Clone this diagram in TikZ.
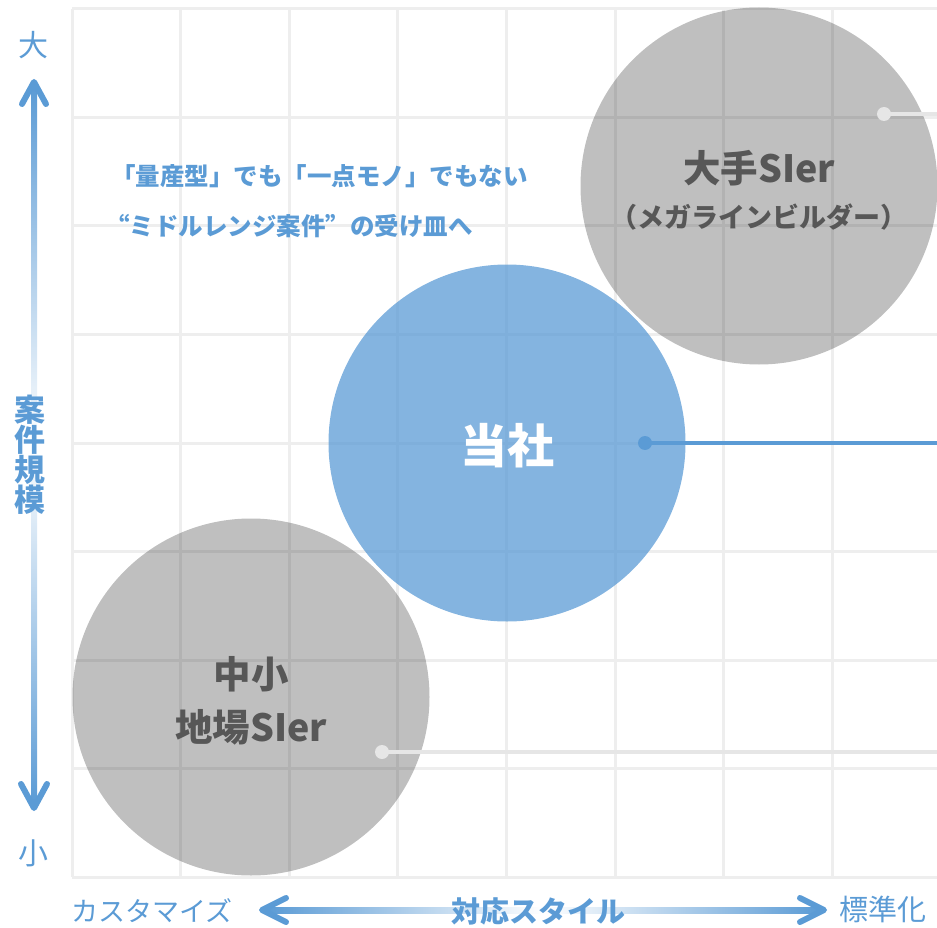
\documentclass[tikz,border=0pt]{standalone}
\usepackage{fontspec}
\setmainfont{Noto Sans CJK JP}
\definecolor{axisblue}{HTML}{5B9BD5}
\definecolor{gridgray}{HTML}{EEEEEE}
\definecolor{linegray}{HTML}{E6E6E6}
\definecolor{labelgray}{HTML}{575757}
\newcommand{\fwq}[1]{{\addfontfeature{CharacterWidth=Full}#1}}
\tikzset{
  gridline/.style={draw=gridgray, line width=3pt},
  bubble/.style={circle, minimum size=357pt, inner sep=0pt},
  graybubble/.style={bubble, fill=black, fill opacity=0.25},
  bluebubble/.style={bubble, fill=axisblue, fill opacity=0.75},
  graydot/.style={circle, fill=linegray, minimum size=14pt, inner sep=0pt},
  bluedot/.style={circle, fill=axisblue, minimum size=14pt, inner sep=0pt},
  grayconn/.style={draw=linegray, line width=4pt},
  blueconn/.style={draw=axisblue, line width=4pt},
  chevron/.style={draw=axisblue, line width=6pt, line cap=round, line join=round},
  axislabel/.style={text=axisblue, inner sep=0pt},
  bubbletext/.style={text=labelgray, inner sep=0pt, font=\bfseries},
  note/.style={text=axisblue, inner sep=0pt, anchor=west, font=\bfseries\fontsize{24.5}{28}\selectfont}
}
\begin{document}
\begin{tikzpicture}[x=1pt,y=-1pt]
\useasboundingbox (0,0) rectangle (937,928);
% grid
\begin{scope}
\clip (0,0) rectangle (937,928);
\foreach \i in {0,...,8} \draw[gridline] ({72+\i*108.6},9) -- ({72+\i*108.6},877);
\foreach \j in {0,...,8} \draw[gridline] (72,{9+\j*108.5}) -- (960,{9+\j*108.5});
\end{scope}
% bubbles
\node[graybubble] (big) at (759,186) {};
\node[bluebubble] (us) at (507,443) {};
\node[graybubble] (small) at (251,697) {};
% connectors
\begin{scope}
\clip (0,0) rectangle (937,928);
\node[graydot] (d1) at (884,114) {};
\coordinate (e1) at (945,114);
\draw[grayconn] (d1.center) -- (e1);
\node[bluedot] (d2) at (645,443) {};
\coordinate (e2) at (945,443);
\draw[blueconn] (d2.center) -- (e2);
\node[graydot] (d3) at (382,752) {};
\coordinate (e3) at (945,752);
\draw[grayconn] (d3.center) -- (e3);
\end{scope}
% bubble texts
\node[bubbletext, font=\bfseries\fontsize{37.5}{40}\selectfont] (t1) at (759,168) {大手SIer};
\node[bubbletext, font=\bfseries\fontsize{27}{32}\selectfont] (t2) at (759,217) {（メガラインビルダー）};
\node[inner sep=0pt, text=white, font=\bfseries\fontsize{47}{50}\selectfont] (t3) at (507,446) {当社};
\node[bubbletext, font=\bfseries\fontsize{37.5}{40}\selectfont] (t4) at (251,674) {中小};
\node[bubbletext, font=\bfseries\fontsize{37.5}{40}\selectfont] (t5) at (251,727) {地場SIer};
% note
\node[note] (n1) at (111,176) {「量産型」でも「一点モノ」でもない};
\node[note] (n2) at (105,226) {\fwq{“}ミドルレンジ案件\fwq{”}の受け皿へ};
% vertical axis
\shade[top color=axisblue, bottom color=axisblue, middle color=white] (31,86) rectangle (37,804);
\coordinate (vt) at (34,82);
\coordinate (vb) at (34,808);
\draw[chevron] (22,104) -- (vt) -- (46,104);
\draw[chevron] (21,784) -- (vb) -- (47,784);
\node[axislabel, font=\fontsize{30}{30}\selectfont] (big label) at (34,45) {大};
\node[axislabel, font=\fontsize{30}{30}\selectfont] (small label) at (34,853) {小};
\node[axislabel, font=\bfseries\fontsize{31}{30}\selectfont, align=center] (vaxis) at (30,455) {案\\件\\規\\模};
% horizontal axis
\shade[left color=axisblue, right color=axisblue, middle color=white] (266,907) rectangle (820,913);
\coordinate (hl) at (262,910);
\coordinate (hr) at (824,910);
\draw[chevron] (286,898) -- (hl) -- (286,922);
\draw[chevron] (800,898) -- (hr) -- (800,922);
\node[axislabel, font=\fontsize{27}{30}\selectfont, anchor=west] (custom) at (71,911) {カスタマイズ};
\node[axislabel, font=\bfseries\fontsize{29}{30}\selectfont] (haxis) at (538,911) {対応スタイル};
\node[axislabel, font=\fontsize{29}{30}\selectfont, anchor=west] (std) at (839,909) {標準化};
\end{tikzpicture}
\end{document}
